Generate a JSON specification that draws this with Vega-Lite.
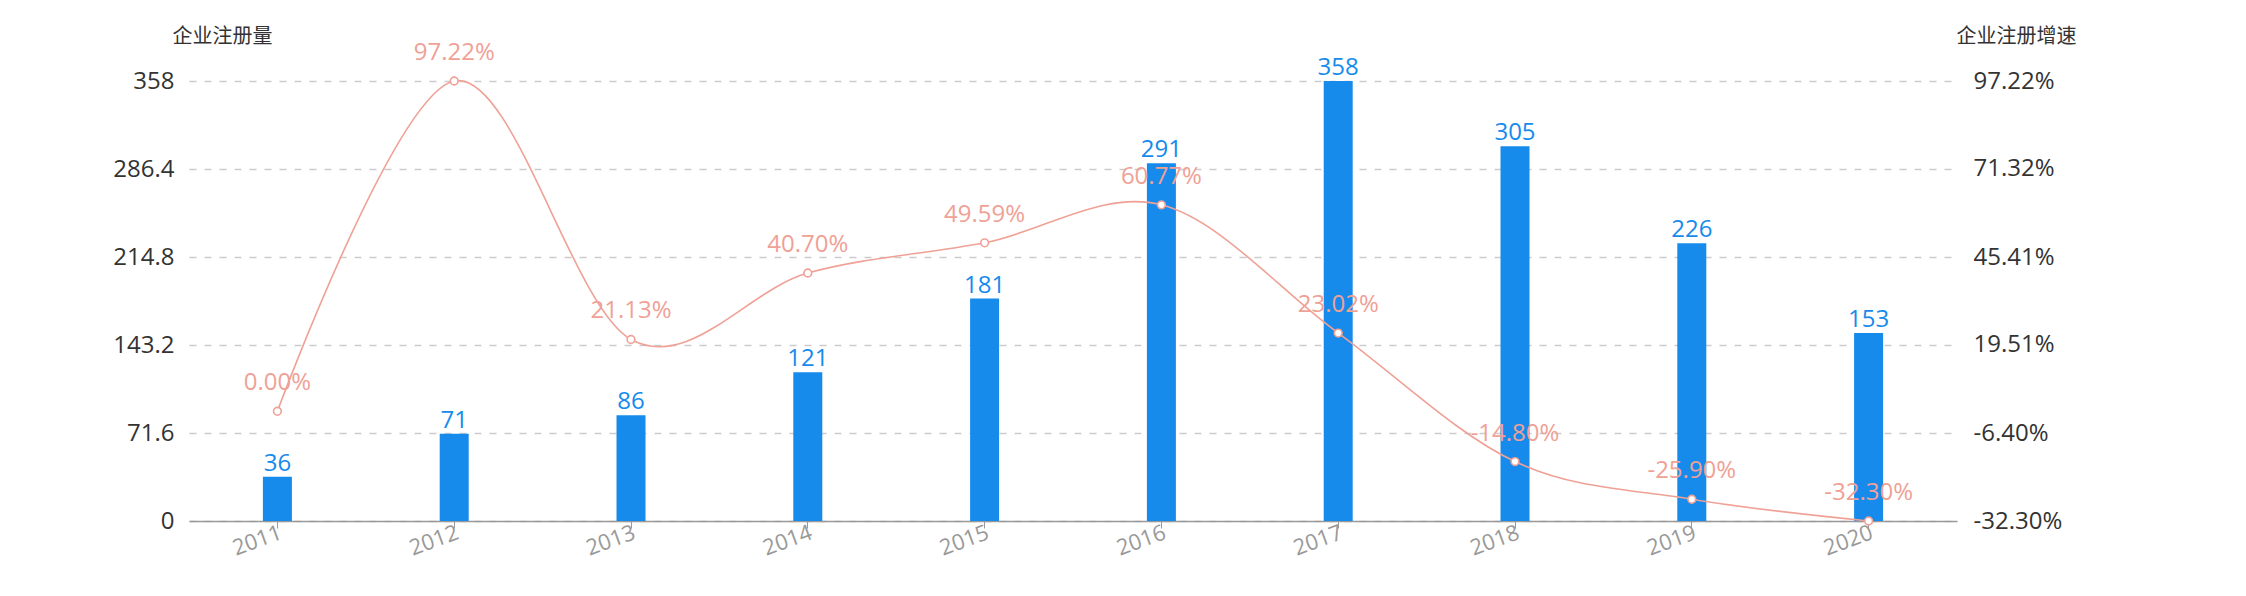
{
  "$schema": "https://vega.github.io/schema/vega-lite/v6.json",
  "width": 1768,
  "height": 440,
  "autosize": {"type": "none"},
  "padding": {"left": 189, "top": 81, "right": 289, "bottom": 75},
  "background": "white",
  "config": {
    "view": {"stroke": null},
    "font": "Open Sans, Noto Sans CJK SC"
  },
  "data": {
    "values": [
      {"year": "2011", "count": 36, "growth": 0.00, "gl": "0.00%"},
      {"year": "2012", "count": 71, "growth": 97.22, "gl": "97.22%"},
      {"year": "2013", "count": 86, "growth": 21.13, "gl": "21.13%"},
      {"year": "2014", "count": 121, "growth": 40.70, "gl": "40.70%"},
      {"year": "2015", "count": 181, "growth": 49.59, "gl": "49.59%"},
      {"year": "2016", "count": 291, "growth": 60.77, "gl": "60.77%"},
      {"year": "2017", "count": 358, "growth": 23.02, "gl": "23.02%"},
      {"year": "2018", "count": 305, "growth": -14.80, "gl": "-14.80%"},
      {"year": "2019", "count": 226, "growth": -25.90, "gl": "-25.90%"},
      {"year": "2020", "count": 153, "growth": -32.30, "gl": "-32.30%"}
    ]
  },
  "encoding": {
    "x": {
      "field": "year",
      "type": "ordinal",
      "scale": {"paddingInner": 0, "paddingOuter": 0},
      "axis": {
        "title": null,
        "domainColor": "#999999",
        "domainWidth": 1.6,
        "tickColor": "#999999",
        "tickSize": 7,
        "labelColor": "#999999",
        "labelFontSize": 22,
        "labelAngle": -20,
        "labelAlign": "right",
        "labelBaseline": "top",
        "labelPadding": -6,
        "labelFont": "Open Sans",
        "grid": false
      }
    }
  },
  "layer": [
    {
      "layer": [
        {
          "mark": {"type": "bar", "width": 29, "color": "#168bec"},
          "encoding": {
            "y": {
              "field": "count",
              "type": "quantitative",
              "scale": {"domain": [0, 358], "nice": false, "zero": true},
              "axis": {
                "title": "企业注册量",
                "titleFont": "Noto Sans CJK SC",
                "titleFontSize": 20,
                "titleFontWeight": "normal",
                "titleColor": "#333333",
                "titleAngle": 0,
                "titleAlign": "center",
                "titleBaseline": "middle",
                "titleX": 33,
                "titleY": -45,
                "values": [0, 71.6, 143.2, 214.8, 286.4, 358],
                "labelExpr": "datum.value + ''",
                "labelFontSize": 24,
                "labelFont": "Open Sans",
                "labelColor": "#333333",
                "labelPadding": 15,
                "domain": false,
                "ticks": false,
                "grid": true,
                "gridColor": "#cccccc",
                "gridDash": [7, 8],
                "gridWidth": 1.5
              }
            }
          }
        },
        {
          "mark": {"type": "text", "color": "#168bec", "fontSize": 24, "baseline": "alphabetic", "dy": -6, "font": "Open Sans"},
          "encoding": {
            "y": {"field": "count", "type": "quantitative"},
            "text": {"field": "count", "type": "quantitative"}
          }
        }
      ]
    },
    {
      "layer": [
        {
          "mark": {"type": "line", "interpolate": "cardinal", "color": "#efa196", "strokeWidth": 1.6},
          "encoding": {
            "y": {
              "field": "growth",
              "type": "quantitative",
              "scale": {"domain": [-32.3, 97.22], "nice": false, "zero": false},
              "axis": {
                "orient": "right",
                "title": "企业注册增速",
                "titleFont": "Noto Sans CJK SC",
                "titleFontSize": 20,
                "titleFontWeight": "normal",
                "titleColor": "#333333",
                "titleAngle": 0,
                "titleAlign": "center",
                "titleBaseline": "middle",
                "titleX": 59,
                "titleY": -45,
                "values": [-32.3, -6.4, 19.51, 45.41, 71.32, 97.22],
                "labelExpr": "replace(format(datum.value, '.2f'), '−', '-') + '%'",
                "labelFontSize": 24,
                "labelFont": "Open Sans",
                "labelColor": "#333333",
                "labelPadding": 16,
                "domain": false,
                "ticks": false,
                "grid": false
              }
            }
          }
        },
        {
          "mark": {"type": "point", "filled": true, "fill": "white", "stroke": "#efa196", "strokeWidth": 1.6, "size": 60, "opacity": 1},
          "encoding": {
            "y": {"field": "growth", "type": "quantitative"}
          }
        },
        {
          "mark": {"type": "text", "color": "#efa196", "fontSize": 24, "baseline": "alphabetic", "dy": -21, "font": "Open Sans"},
          "encoding": {
            "y": {"field": "growth", "type": "quantitative"},
            "text": {"field": "gl", "type": "nominal"}
          }
        }
      ]
    }
  ],
  "resolve": {"scale": {"y": "independent"}}
}
